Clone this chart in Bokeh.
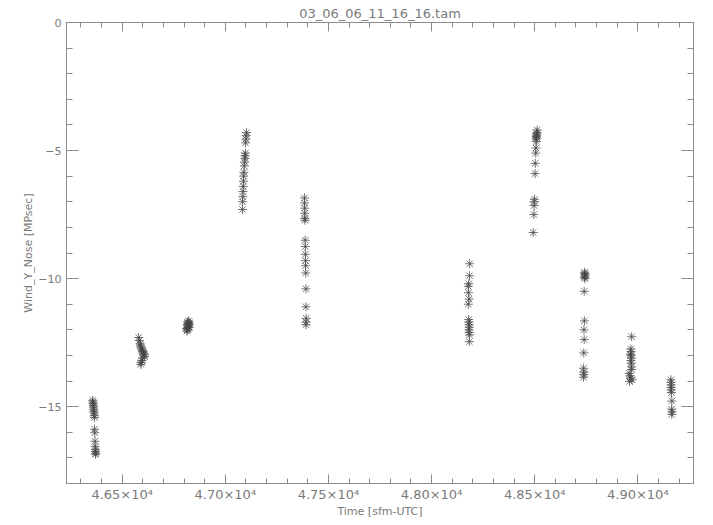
from bokeh.plotting import figure
from bokeh.models import Range1d, FixedTicker, LinearAxis, CustomJSTickFormatter
from bokeh.embed import file_html
from bokeh.resources import INLINE

# ---- data (time [sfm-UTC], Wind_Y_Nose [MPsec]) ----
seg1_t = [46357, 46358, 46359, 46360, 46361, 46362, 46363, 46364, 46365, 46366,
          46366, 46367, 46368, 46369, 46370, 46371, 46372, 46371]
seg1_v = [-14.75, -14.82, -14.88, -14.95, -15.02, -15.10, -15.18, -15.25, -15.35, -15.42,
          -15.88, -16.02, -16.35, -16.55, -16.68, -16.75, -16.82, -16.86]

seg2_t = [46580, 46583, 46586, 46589, 46592, 46594, 46597, 46600, 46602, 46605,
          46607, 46609, 46598, 46595, 46592, 46590]
seg2_v = [-12.30, -12.42, -12.55, -12.60, -12.68, -12.75, -12.80, -12.85, -12.90, -12.95,
          -12.98, -13.05, -13.10, -13.20, -13.28, -13.35]

seg3_t = [46812, 46814, 46815, 46817, 46818, 46820, 46821, 46822, 46824, 46825,
          46826, 46816, 46819, 46823]
seg3_v = [-11.95, -12.05, -11.80, -11.70, -11.90, -11.75, -11.85, -11.65, -11.80, -11.72,
          -11.90, -12.00, -11.98, -11.78]

seg4_t = [47103, 47101, 47100, 47098, 47097, 47096, 47095, 47094, 47092, 47090,
          47089, 47088, 47087, 47086, 47085, 47084, 47083]
seg4_v = [-4.30, -4.42, -4.55, -4.70, -5.10, -5.20, -5.30, -5.45, -5.60, -5.85,
          -6.00, -6.20, -6.40, -6.60, -6.80, -7.00, -7.30]

seg5_t = [47384, 47384, 47385, 47385, 47386, 47386, 47387, 47388, 47388, 47389,
          47389, 47390, 47391, 47391, 47392, 47392, 47391]
seg5_v = [-6.85, -7.05, -7.25, -7.45, -7.65, -7.72, -8.50, -8.75, -9.05, -9.30,
          -9.50, -9.78, -10.40, -11.10, -11.55, -11.70, -11.80]

seg6_t = [48185, 48184, 48180, 48178, 48179, 48182, 48178, 48180, 48181, 48182,
          48183, 48181, 48182, 48184, 48183]
seg6_v = [-9.42, -9.89, -10.20, -10.30, -10.55, -10.80, -11.00, -11.60, -11.70, -11.80,
          -11.90, -12.00, -12.10, -12.20, -12.46]

seg7_t = [48512, 48511, 48510, 48509, 48508, 48509, 48507, 48508, 48506, 48505,
          48503, 48502, 48499, 48498, 48497, 48496, 48493]
seg7_v = [-4.20, -4.30, -4.35, -4.40, -4.45, -4.50, -4.55, -4.65, -4.90, -5.10,
          -5.50, -5.90, -6.90, -7.00, -7.15, -7.50, -8.20]

seg8_t = [48742, 48743, 48744, 48743, 48742, 48744, 48740, 48741, 48739, 48740,
          48738, 48737, 48738, 48739, 48737]
seg8_v = [-9.75, -9.80, -9.85, -9.90, -9.95, -10.00, -10.50, -11.65, -12.00, -12.38,
          -12.90, -13.50, -13.65, -13.75, -13.85]

seg9_t = [48970, 48966, 48968, 48964, 48967, 48969, 48966, 48968, 48969, 48970,
          48958, 48962, 48966, 48972, 48960]
seg9_v = [-12.27, -12.75, -12.85, -12.95, -13.00, -13.10, -13.20, -13.30, -13.45, -13.55,
          -13.70, -13.80, -13.88, -13.95, -14.02]

seg10_t = [49160, 49161, 49162, 49161, 49162, 49163, 49165, 49164, 49166, 49165]
seg10_v = [-13.95, -14.05, -14.15, -14.25, -14.35, -14.45, -14.78, -15.10, -15.20, -15.30]

x_ticks = [46500, 47000, 47500, 48000, 48500, 49000]
x_tick_labels = ["4.65×10⁴", "4.70×10⁴", "4.75×10⁴", "4.80×10⁴", "4.85×10⁴", "4.90×10⁴"]
x_minor = list(range(46300, 49300, 100))
y_ticks = [-15, -10, -5, 0]
y_tick_labels = ["−15", "−10", "−5", "0"]
y_minor = list(range(-18, 1))

title_text = "03_06_06_11_16_16.tam"
x_label = "Time [sfm-UTC]"
y_label = "Wind_Y_Nose [MPsec]"

FONT = "DejaVu Sans"
AXIS_COLOR = "#8c8c8c"
TEXT_COLOR = "#7a7a7a"
FS = "11px"
FS_BIG = "13px"

p = figure(width=713, height=525, output_backend="svg", toolbar_location=None,
           x_range=Range1d(46230, 49270), y_range=Range1d(-18, 0),
           min_border_left=66, min_border_right=20, min_border_top=22, min_border_bottom=42,
           x_axis_label=x_label, y_axis_label=y_label, title=title_text)
p.grid.visible = False
p.outline_line_color = AXIS_COLOR
p.background_fill_color = "white"
p.border_fill_color = "white"

p.title.align = "center"
p.title.vertical_align = "top"
p.title.text_font = FONT
p.title.text_font_size = FS_BIG
p.title.text_font_style = "normal"
p.title.text_color = TEXT_COLOR
p.title.standoff = 0


def style_axis(ax, ticks, minor, tick_in, minor_in, labels=None, label_fs=FS):
    ax.ticker = FixedTicker(ticks=ticks, minor_ticks=minor)
    ax.axis_line_color = AXIS_COLOR
    ax.major_tick_line_color = AXIS_COLOR
    ax.minor_tick_line_color = AXIS_COLOR
    ax.major_tick_in = tick_in
    ax.major_tick_out = 0
    ax.minor_tick_in = minor_in
    ax.minor_tick_out = 0
    ax.major_label_text_font = FONT
    ax.major_label_text_font_size = label_fs
    ax.major_label_text_color = TEXT_COLOR
    ax.axis_label_text_font = FONT
    ax.axis_label_text_font_size = FS
    ax.axis_label_text_font_style = "normal"
    ax.axis_label_text_color = TEXT_COLOR
    if labels is not None:
        ax.major_label_overrides = {t: s for t, s in zip(ticks, labels)}
    else:
        ax.formatter = CustomJSTickFormatter(code="return ''")
        ax.major_label_standoff = 0


style_axis(p.xaxis[0], x_ticks, x_minor, 9, 5, x_tick_labels, FS_BIG)
style_axis(p.yaxis[0], y_ticks, y_minor, 12, 6, y_tick_labels, FS)
p.xaxis[0].major_label_standoff = 3
p.xaxis[0].axis_label_standoff = 0
p.yaxis[0].major_label_standoff = 5
p.yaxis[0].axis_label_standoff = 0

top_ax = LinearAxis()
style_axis(top_ax, x_ticks, x_minor, 9, 5)
p.add_layout(top_ax, "above")
right_ax = LinearAxis()
style_axis(right_ax, y_ticks, y_minor, 12, 6)
p.add_layout(right_ax, "right")

segments = [(seg1_t, seg1_v), (seg2_t, seg2_v), (seg3_t, seg3_v), (seg4_t, seg4_v),
            (seg5_t, seg5_v), (seg6_t, seg6_v), (seg7_t, seg7_v), (seg8_t, seg8_v),
            (seg9_t, seg9_v), (seg10_t, seg10_v)]
for t, v in segments:
    p.scatter(t, v, marker="asterisk", size=9, line_color="#444444", line_width=0.75)

open("out.html", "w").write(file_html(p, INLINE))
